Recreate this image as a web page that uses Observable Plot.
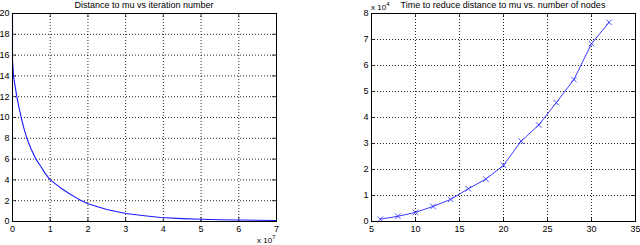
<!DOCTYPE html>
<html>
<head>
<meta charset="utf-8">
<script src="https://cdn.jsdelivr.net/npm/d3@7"></script>
<script src="https://cdn.jsdelivr.net/npm/@observablehq/plot@0.6"></script>
<style>
  html, body { margin: 0; padding: 0; background: #fff; }
  #wrap { position: relative; width: 640px; height: 245px; font-family: "Liberation Sans", Arial, sans-serif; }
  .panel { position: absolute; top: 0; }
  .title { position: absolute; top: 0px; font-size: 9px; line-height: 11px; white-space: nowrap; transform: translateX(-50%); color: #000; }
  .mult { position: absolute; font-size: 8px; line-height: 10px; white-space: nowrap; color: #000; }
  .mult sup { font-size: 6px; line-height: 6px; vertical-align: 4px; }
</style>
</head>
<body>
<div id="wrap"></div>
<script>
// Left chart: distance to mu vs iteration number (x in units of 1e7)
const iterX = [0, 0, 0.01, 0.027, 0.07, 0.115, 0.17, 0.23, 0.3, 0.38, 0.49, 0.62, 0.74, 0.86, 1.0, 1.25, 1.5, 1.75, 2.0, 2.5, 3.0, 3.5, 3.93, 4.5, 5.0, 5.5, 6.0, 6.5, 7.0];
const distY = [20, 15.5, 15, 14, 13, 12, 11, 10, 9, 8, 7, 6, 5.36, 4.65, 4.0, 3.3, 2.7, 2.15, 1.7, 1.15, 0.77, 0.55, 0.38, 0.28, 0.22, 0.17, 0.14, 0.12, 0.1];
const leftXTicks = [0, 1, 2, 3, 4, 5, 6, 7];
const leftYTicks = [0, 2, 4, 6, 8, 10, 12, 14, 16, 18, 20];

// Right chart: time to reduce distance (in units of 1e4) vs number of nodes
const nodes = [6, 8, 10, 12, 14, 16, 18, 20, 22, 24, 26, 28, 30, 32];
const timeY = [0.09, 0.2, 0.35, 0.58, 0.85, 1.26, 1.63, 2.16, 3.09, 3.71, 4.57, 5.46, 6.84, 7.66];
const rightXTicks = [5, 10, 15, 20, 25, 30, 35];
const rightYTicks = [0, 1, 2, 3, 4, 5, 6, 7, 8];

const titles = ["Distance to mu vs iteration number", "Time to reduce distance to mu vs. number of nodes"];

function panel({xDomain, yDomain, xTicks, yTicks, marks, marginLeft, marginRight}) {
  const W = 320, H = 245, mt = 13, mb = 24;
  const pxW = W - marginLeft - marginRight, pxH = H - mt - mb;
  const tx = 4 * (xDomain[1] - xDomain[0]) / pxW;  // inward tick length in data units
  const ty = 4 * (yDomain[1] - yDomain[0]) / pxH;
  const gridStyle = {stroke: "#000", strokeOpacity: 0.85, strokeDasharray: "1,2", strokeWidth: 1};
  const innerX = xTicks.filter(v => v > xDomain[0] && v < xDomain[1]);
  const innerY = yTicks.filter(v => v > yDomain[0] && v < yDomain[1]);
  return Plot.plot({
    width: W, height: H,
    marginLeft, marginRight, marginTop: mt, marginBottom: mb,
    style: {fontFamily: "Liberation Sans, Arial, sans-serif", fontSize: "9px", background: "white", overflow: "visible"},
    x: {domain: xDomain},
    y: {domain: yDomain},
    marks: [
      Plot.ruleX(innerX, {...gridStyle}),
      Plot.ruleY(innerY, {...gridStyle}),
      // inward ticks on all four sides
      Plot.ruleX(xTicks, {y1: yDomain[0], y2: yDomain[0] + ty, stroke: "#000", strokeWidth: 0.8}),
      Plot.ruleX(xTicks, {y1: yDomain[1], y2: yDomain[1] - ty, stroke: "#000", strokeWidth: 0.8}),
      Plot.ruleY(yTicks, {x1: xDomain[0], x2: xDomain[0] + tx, stroke: "#000", strokeWidth: 0.8}),
      Plot.ruleY(yTicks, {x1: xDomain[1], x2: xDomain[1] - tx, stroke: "#000", strokeWidth: 0.8}),
      ...marks,
      Plot.frame({stroke: "#000", strokeWidth: 1}),
      Plot.axisX({ticks: xTicks, tickFormat: d3.format("d"), tickSize: 0, tickPadding: 4, label: null, fontSize: 9}),
      Plot.axisY({ticks: yTicks, tickFormat: d3.format("d"), tickSize: 0, tickPadding: 3, label: null, fontSize: 9})
    ]
  });
}

const leftData = iterX.map((x, i) => ({x, y: distY[i]}));
const rightData = nodes.map((x, i) => ({x, y: timeY[i]}));

const left = panel({
  xDomain: [0, 7], yDomain: [0, 20], xTicks: leftXTicks, yTicks: leftYTicks,
  marginLeft: 12, marginRight: 44,
  marks: [Plot.line(leftData, {x: "x", y: "y", stroke: "#1a1aff", strokeWidth: 1.1})]
});
const right = panel({
  xDomain: [5, 35], yDomain: [0, 8], xTicks: rightXTicks, yTicks: rightYTicks,
  marginLeft: 51, marginRight: 5,
  marks: [
    Plot.line(rightData, {x: "x", y: "y", stroke: "#3a3aff", strokeWidth: 1}),
    Plot.dot(rightData, {x: "x", y: "y", symbol: "times", r: 2.6, stroke: "#3a3aff", strokeWidth: 0.9})
  ]
});

const wrap = document.getElementById("wrap");
const p1 = document.createElement("div"); p1.className = "panel"; p1.style.left = "0px"; p1.appendChild(left);
const p2 = document.createElement("div"); p2.className = "panel"; p2.style.left = "320px"; p2.appendChild(right);
wrap.appendChild(p1); wrap.appendChild(p2);

const t1 = document.createElement("div"); t1.className = "title"; t1.style.left = "144px"; t1.textContent = titles[0];
const t2 = document.createElement("div"); t2.className = "title"; t2.style.left = "503px"; t2.textContent = titles[1];
wrap.appendChild(t1); wrap.appendChild(t2);

const m1 = document.createElement("div"); m1.className = "mult"; m1.style.left = "257px"; m1.style.top = "234px";
m1.innerHTML = "x 10<sup>7</sup>";
const m2 = document.createElement("div"); m2.className = "mult"; m2.style.left = "371px"; m2.style.top = "1px";
m2.innerHTML = "x 10<sup>4</sup>";
wrap.appendChild(m1); wrap.appendChild(m2);
</script>
</body>
</html>
